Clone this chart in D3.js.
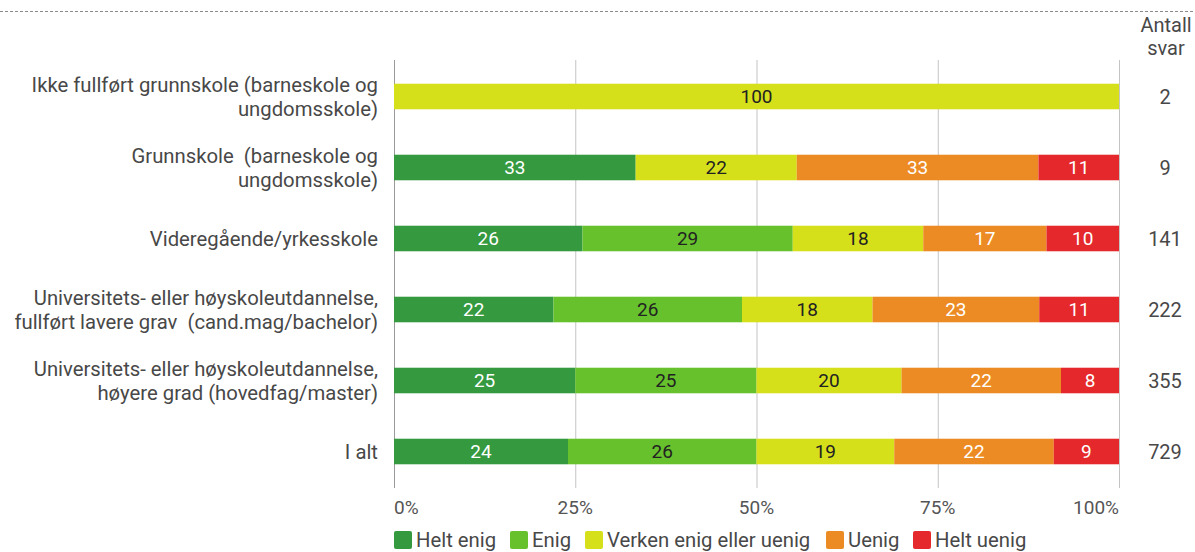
<!DOCTYPE html>
<html><head><meta charset="utf-8">
<script src="https://cdn.jsdelivr.net/npm/d3@7"></script>
<style>
html,body{margin:0;padding:0;background:#fff;}
svg{display:block;font-family:Roboto,"Open Sans",sans-serif;}
</style></head>
<body><svg id="c" width="1195" height="552"></svg>
<script>
const categories = [
  ["Ikke fullført grunnskole (barneskole og","ungdomsskole)"],
  ["Grunnskole  (barneskole og","ungdomsskole)"],
  ["Videregående/yrkesskole"],
  ["Universitets- eller høyskoleutdannelse,","fullført lavere grav  (cand.mag/bachelor)"],
  ["Universitets- eller høyskoleutdannelse,","høyere grad (hovedfag/master)"],
  ["I alt"]
];
const seriesNames = ["Helt enig","Enig","Verken enig eller uenig","Uenig","Helt uenig"];
const heltEnig  = [0, 33, 26, 22, 25, 24];
const enig      = [0, 0, 29, 26, 25, 26];
const verken    = [100, 22, 18, 18, 20, 19];
const uenig     = [0, 33, 17, 23, 22, 22];
const heltUenig = [0, 11, 10, 11, 8, 9];
const antallSvar = [2, 9, 141, 222, 355, 729];
const tickValues = [0, 25, 50, 75, 100];
const tickLabels = ["0%","25%","50%","75%","100%"];
const colors = ["#34993f","#66c12c","#d6e01a","#ec8b23","#e4282b"];
const labelColors = ["#fff","#222","#222","#fff","#fff"];

const series = [heltEnig, enig, verken, uenig, heltUenig];
const rows = categories.map((c,i)=>{
  const vals = series.map(s=>s[i]);
  const tot = d3.sum(vals);
  let acc = 0;
  return vals.map((v,k)=>{ const o={k, v, x0:acc/tot*100, x1:(acc+v)/tot*100}; acc+=v; return o; });
});

const svg = d3.select("#c");
const x = d3.scaleLinear().domain([0,100]).range([394,1119]);
const y = d3.scaleBand().domain(d3.range(categories.length)).range([61,487]).paddingInner(0.64).paddingOuter(0.32);

// top dashed line
svg.append("line").attr("x1",0).attr("x2",1195).attr("y1",11.5).attr("y2",11.5)
  .attr("stroke","#8a8a8a").attr("stroke-width",1).attr("stroke-dasharray","3,2");

// gridlines
svg.append("g").selectAll("line").data(tickValues).join("line")
  .attr("x1",d=>x(d)+0.5).attr("x2",d=>x(d)+0.5).attr("y1",60).attr("y2",488)
  .attr("stroke",(d)=>d===0?"#9a9a9a":"#c4c4c4").attr("stroke-width",1);

// bars
const g = svg.append("g");
rows.forEach((r,i)=>{
  const gy = y(i);
  r.filter(d=>d.v>0).forEach(d=>{
    g.append("rect").attr("x",x(d.x0)).attr("y",gy).attr("width",x(d.x1)-x(d.x0)).attr("height",y.bandwidth())
      .attr("fill",colors[d.k]);
    g.append("text").attr("x",(x(d.x0)+x(d.x1))/2).attr("y",gy+y.bandwidth()/2).attr("dy","0.36em")
      .attr("text-anchor","middle").attr("font-size",19).attr("fill",labelColors[d.k]).text(d.v);
  });
});

// category labels
categories.forEach((lines,i)=>{
  const cy = y(i)+y.bandwidth()/2;
  const lh = 24.5;
  const t = svg.append("text").attr("text-anchor","end").attr("font-size",20.3).attr("fill","#484848");
  lines.forEach((ln,j)=>{
    t.append("tspan").attr("x",378).attr("y",cy + (j-(lines.length-1)/2)*lh).attr("dy","0.36em")
      .attr("xml:space","preserve").style("white-space","pre").text(ln);
  });
});

// antall svar
svg.append("text").attr("x",1166).attr("y",32).attr("text-anchor","middle").attr("font-size",20).attr("fill","#484848").text("Antall");
svg.append("text").attr("x",1166).attr("y",55).attr("text-anchor","middle").attr("font-size",20).attr("fill","#484848").text("svar");
antallSvar.forEach((n,i)=>{
  svg.append("text").attr("x",1165).attr("y",y(i)+y.bandwidth()/2).attr("dy","0.36em")
    .attr("text-anchor","middle").attr("font-size",20).attr("fill","#484848").text(n);
});

// x tick labels
svg.append("g").selectAll("text").data(tickValues).join("text")
  .attr("x",(d,i)=>x(d)).attr("y",514)
  .attr("text-anchor",(d,i)=>i===0?"start":(i===tickValues.length-1?"end":"middle"))
  .attr("font-size",19).attr("fill","#555").text((d,i)=>tickLabels[i]);

// legend
const legX = [394, 510, 585, 826, 913];
const lg = svg.append("g");
seriesNames.forEach((n,k)=>{
  lg.append("rect").attr("x",legX[k]).attr("y",531).attr("width",18).attr("height",18).attr("rx",2).attr("fill",colors[k]);
  lg.append("text").attr("x",legX[k]+22).attr("y",540).attr("dy","0.36em").attr("font-size",20.3).attr("fill","#484848").text(n);
});
</script></body></html>
